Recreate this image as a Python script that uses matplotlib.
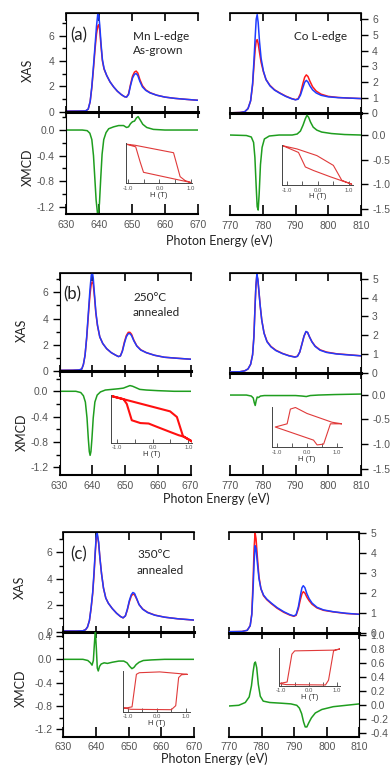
import matplotlib.pyplot as plt
from matplotlib.ticker import MultipleLocator, FixedLocator

plt.rcParams['font.family'] = ['Liberation Sans', 'DejaVu Sans']

W, H = 391, 765

# ---------------- data ----------------
# panel (a) Mn L-edge, as-grown
mn_e_a = [630, 634, 636, 636.8, 637.4, 637.9, 638.4, 638.9, 639.3, 639.7, 640.0, 640.3, 640.7, 641.1,
          641.6, 642.4, 643.4, 644.5, 645.6, 646.8, 647.8, 648.4, 649.0, 649.6, 650.2, 650.8, 651.3,
          651.8, 652.4, 653.2, 654.2, 655.5, 657.5, 660, 663, 666.5, 670]
mn_blue_a = [0.04, 0.05, 0.06, 0.2, 0.8, 2.0, 3.6, 5.3, 6.7, 7.7, 7.6, 6.8, 5.3, 4.1, 3.4, 2.85, 2.35, 1.95,
             1.62, 1.35, 1.18, 1.15, 1.35, 2.05, 2.65, 2.95, 3.0, 2.85, 2.4, 1.95, 1.68, 1.48, 1.3, 1.15,
             1.05, 0.97, 0.9]
mn_red_a = [0.04, 0.05, 0.06, 0.2, 0.8, 1.9, 3.4, 5.0, 6.1, 6.75, 6.85, 6.4, 5.1, 4.0, 3.35, 2.85, 2.35, 1.95,
            1.62, 1.35, 1.18, 1.16, 1.4, 2.15, 2.8, 3.12, 3.2, 3.05, 2.55, 2.05, 1.72, 1.5, 1.3, 1.15,
            1.05, 0.97, 0.9]
mn_mcd_e_a = [630, 635, 636.5, 637.3, 637.9, 638.4, 638.8, 639.2, 639.6, 639.9, 640.2, 640.6, 641.0, 641.5,
              642.2, 643.0, 644.5, 646.0, 647.5, 648.4, 649.0, 649.6, 650.2, 650.8, 651.4, 651.9, 652.5,
              653.3, 654.5, 656.5, 660, 665, 670]
mn_mcd_a = [0.0, 0.0, -0.01, -0.05, -0.15, -0.4, -0.75, -1.1, -1.3, -1.3, -1.15, -0.75, -0.38, -0.15,
            -0.04, 0.02, 0.05, 0.07, 0.07, 0.04, 0.05, 0.1, 0.13, 0.14, 0.19, 0.21, 0.16, 0.09, 0.04,
            0.01, 0.0, 0.0, 0.0]

# panel (a) Co L-edge
co_e_a = [770, 773, 774.5, 775.5, 776.3, 776.9, 777.3, 777.7, 778.0, 778.3, 778.6, 779.0, 779.5, 780.2,
          781.0, 782.2, 783.6, 785.2, 787.0, 788.8, 790.0, 790.8, 791.5, 792.2, 792.8, 793.3, 793.8,
          794.4, 795.2, 796.3, 797.8, 800, 803, 806.5, 810]
co_blue_a = [0.03, 0.05, 0.1, 0.3, 0.8, 1.9, 3.3, 4.9, 6.0, 6.3, 5.8, 4.6, 3.5, 2.7, 2.15, 1.75, 1.48, 1.28,
             1.08, 0.93, 0.86, 0.9, 1.15, 1.6, 1.98, 2.1, 2.0, 1.75, 1.5, 1.3, 1.15, 1.05, 1.0, 0.97, 0.94]
co_red_a = [0.03, 0.05, 0.1, 0.3, 0.8, 1.8, 3.0, 4.1, 4.6, 4.7, 4.45, 3.9, 3.25, 2.65, 2.15, 1.78, 1.5, 1.3,
            1.1, 0.94, 0.87, 0.93, 1.25, 1.85, 2.3, 2.45, 2.35, 2.05, 1.7, 1.42, 1.22, 1.08, 1.01, 0.97, 0.94]
co_mcd_e_a = [770, 775, 776.5, 777.2, 777.6, 778.0, 778.3, 778.6, 778.9, 779.3, 779.8, 780.5, 782, 785,
              789, 790.5, 791.5, 792.3, 793.0, 793.5, 794.0, 794.6, 795.4, 796.5, 798, 801, 805, 810]
co_mcd_a = [0.0, -0.01, -0.04, -0.15, -0.45, -1.05, -1.45, -1.52, -1.2, -0.6, -0.25, -0.08, -0.02, 0.0,
            0.0, 0.02, 0.08, 0.2, 0.33, 0.4, 0.36, 0.26, 0.16, 0.1, 0.06, 0.03, 0.01, 0.0]

# panel (b) Mn L-edge, 250C annealed
mn_e_b = [630, 634, 636, 636.8, 637.3, 637.8, 638.3, 638.8, 639.3, 639.7, 640.0, 640.3, 640.7, 641.1,
          641.6, 642.3, 643.2, 644.4, 645.8, 647.2, 648.0, 648.6, 649.2, 649.8, 650.4, 651.0, 651.5,
          652.0, 652.7, 653.6, 654.8, 656.5, 659, 662, 666, 670]
mn_blue_b = [0.05, 0.06, 0.08, 0.15, 0.5, 1.2, 2.6, 4.4, 6.2, 7.3, 7.6, 7.1, 5.8, 4.5, 3.5, 2.6, 2.1, 1.7,
             1.4, 1.2, 1.1, 1.15, 1.5, 2.1, 2.6, 2.85, 2.85, 2.7, 2.3, 1.9, 1.6, 1.4, 1.2, 1.05, 0.97, 0.9]
mn_red_b = [0.05, 0.06, 0.08, 0.15, 0.5, 1.2, 2.5, 4.2, 5.8, 6.65, 6.8, 6.6, 5.6, 4.4, 3.45, 2.6, 2.1, 1.7,
            1.4, 1.2, 1.1, 1.15, 1.55, 2.2, 2.7, 2.95, 2.95, 2.8, 2.35, 1.92, 1.62, 1.4, 1.2, 1.05, 0.97, 0.9]
mn_mcd_e_b = [630, 635, 636.5, 637.3, 637.9, 638.4, 638.8, 639.1, 639.35, 639.6, 639.9, 640.3, 640.8,
              641.5, 642.5, 644, 646, 648, 649.5, 650.5, 651.5, 652.3, 653.2, 654.5, 656.5, 660, 665, 670]
mn_mcd_b = [0.0, 0.0, -0.02, -0.07, -0.17, -0.42, -0.75, -0.95, -1.01, -0.95, -0.75, -0.42, -0.17, -0.06,
            -0.01, 0.02, 0.03, 0.04, 0.05, 0.07, 0.09, 0.08, 0.06, 0.03, 0.02, 0.01, 0.0, 0.0]

# panel (b) Co L-edge
co_e_b = [770, 773, 774.5, 775.5, 776.3, 776.9, 777.3, 777.6, 777.9, 778.2, 778.5, 778.8, 779.2, 779.7,
          780.4, 781.3, 782.5, 784, 786, 788, 789.8, 790.6, 791.3, 792.0, 792.6, 793.2, 793.7, 794.3,
          795.0, 796.0, 797.5, 799.5, 802.5, 806, 810]
co_blue_b = [0.04, 0.05, 0.1, 0.2, 0.45, 0.95, 1.9, 3.3, 4.6, 5.25, 5.0, 4.4, 3.6, 2.8, 2.1, 1.65, 1.38,
             1.18, 1.02, 0.9, 0.83, 0.87, 1.1, 1.55, 1.95, 2.2, 2.15, 1.9, 1.65, 1.4, 1.2, 1.08, 1.0, 0.95, 0.9]
co_red_b = [0.04, 0.05, 0.1, 0.2, 0.45, 0.97, 1.95, 3.35, 4.6, 5.2, 4.95, 4.4, 3.6, 2.8, 2.12, 1.67, 1.4,
            1.2, 1.03, 0.91, 0.84, 0.88, 1.1, 1.55, 1.95, 2.18, 2.14, 1.9, 1.66, 1.42, 1.22, 1.1, 1.01, 0.96, 0.9]
co_mcd_e_b = [770, 775, 776.5, 777.1, 777.4, 777.7, 778.0, 778.3, 778.7, 779.3, 780.5, 783, 787, 790, 792,
              793.3, 794.5, 797, 802, 810]
co_mcd_b = [-0.01, -0.01, -0.03, -0.07, -0.16, -0.22, -0.12, -0.05, -0.06, -0.03, -0.02, -0.02, -0.02,
            -0.02, -0.03, -0.04, -0.02, -0.01, 0.0, 0.01]

# panel (c) Mn L-edge, 350C annealed
mn_e_c = [630, 634, 636, 636.8, 637.4, 638.0, 638.5, 639.0, 639.4, 639.8, 640.1, 640.4, 640.8, 641.2,
          641.7, 642.3, 643.0, 643.8, 645.0, 646.3, 647.5, 648.3, 649.0, 649.6, 650.2, 650.8, 651.3,
          651.8, 652.4, 653.2, 654.3, 655.8, 658, 661, 665, 670]
mn_blue_c = [0.05, 0.05, 0.07, 0.15, 0.35, 0.85, 1.8, 3.0, 4.5, 6.2, 7.3, 7.45, 6.8, 5.6, 4.4, 3.3, 2.55,
             2.15, 1.75, 1.4, 1.15, 1.05, 1.2, 1.7, 2.35, 2.8, 2.97, 2.9, 2.55, 2.05, 1.7, 1.45, 1.25, 1.1,
             0.98, 0.88]
mn_red_c = [0.05, 0.05, 0.07, 0.15, 0.35, 0.85, 1.75, 2.9, 4.3, 6.0, 7.1, 7.3, 6.75, 5.6, 4.4, 3.3, 2.55,
            2.15, 1.75, 1.4, 1.15, 1.05, 1.2, 1.65, 2.25, 2.7, 2.85, 2.8, 2.5, 2.05, 1.72, 1.47, 1.26, 1.1,
            0.98, 0.88]
mn_mcd_e_c = [630, 636, 637.5, 638.3, 638.8, 639.2, 639.5, 639.8, 640.1, 640.4, 640.7, 641.1, 641.6, 642.5,
              643.5, 645, 647, 648.5, 649.5, 650.3, 651.0, 651.6, 652.3, 653.2, 654.5, 657, 661, 670]
mn_mcd_c = [0.0, 0.0, -0.02, -0.06, -0.1, -0.02, 0.25, 0.5, 0.2, -0.15, -0.2, -0.12, -0.08, -0.06, -0.07,
            -0.05, -0.03, -0.03, -0.06, -0.12, -0.16, -0.14, -0.09, -0.05, -0.02, -0.01, 0.0, 0.0]

# panel (c) Co L-edge
co_e_c = [770, 774, 775.6, 776.5, 777.0, 777.4, 777.7, 778.0, 778.3, 778.7, 779.2, 779.8, 780.6, 781.6,
          783.0, 784.8, 786.8, 788.7, 789.9, 790.6, 791.3, 791.9, 792.4, 792.8, 793.3, 793.9, 794.6,
          795.5, 797, 799, 802, 806, 810]
co_blue_c = [0.05, 0.06, 0.12, 0.35, 0.9, 2.2, 3.5, 4.35, 4.2, 3.5, 2.7, 2.2, 1.88, 1.68, 1.48, 1.25, 1.05,
             0.9, 0.84, 0.9, 1.3, 1.85, 2.25, 2.35, 2.25, 1.95, 1.7, 1.48, 1.27, 1.14, 1.05, 0.97, 0.92]
co_red_c = [0.05, 0.06, 0.12, 0.35, 0.95, 2.6, 4.2, 5.0, 4.7, 3.8, 2.8, 2.2, 1.85, 1.65, 1.45, 1.22, 1.02,
            0.88, 0.82, 0.87, 1.2, 1.65, 1.95, 2.05, 1.98, 1.78, 1.6, 1.42, 1.24, 1.12, 1.04, 0.96, 0.92]
co_mcd_e_c = [770, 773, 775, 776.2, 776.9, 777.4, 777.8, 778.1, 778.5, 779.0, 779.6, 780.5, 782.5, 786,
              789, 790.8, 791.6, 792.3, 792.9, 793.4, 793.9, 794.5, 795.3, 796.5, 798.5, 802, 806, 810]
co_mcd_c = [-0.01, 0.0, 0.04, 0.12, 0.28, 0.48, 0.6, 0.62, 0.54, 0.3, 0.13, 0.06, 0.04, 0.03, 0.02, 0.0,
            -0.04, -0.12, -0.24, -0.31, -0.31, -0.25, -0.18, -0.11, -0.06, -0.02, 0.0, 0.02]

# hysteresis loops in the insets (H in T, M normalised to the inset box)
loop_h_a_mn = [-1.08, -0.78, 0.45, 0.66, 0.82, 1.0, -0.51, -0.62, -0.76, -1.08]
loop_m_a_mn = [1.0, 0.97, 0.78, 0.17, 0.07, 0.02, 0.28, 0.55, 0.93, 1.0]
loop_h_a_co = [-1.12, -0.67, -0.03, 0.5, 0.77, 1.09, 0.4, -0.14, -0.4, -0.62, -1.12]
loop_m_a_co = [1.0, 0.92, 0.75, 0.5, 0.12, 0.02, 0.21, 0.37, 0.46, 0.83, 1.0]
loop_h_b_mn = [-1.11, 0.49, 0.68, 0.85, 1.12, 0.87, 0.73, 0.49, 0.12, -0.11, -0.34, -0.58, -0.72, -0.81, -1.11]
loop_m_b_mn = [0.99, 0.67, 0.55, 0.14, 0.02, 0.13, 0.16, 0.23, 0.34, 0.41, 0.42, 0.48, 0.83, 0.93, 0.99]
loop_h_b_co = [1.18, 0.84, 0.0, -0.39, -0.56, -0.67, -1.07, -0.56, 0.22, 0.34, 0.56, 0.79, 1.18]
loop_m_b_co = [0.59, 0.63, 0.85, 1.0, 0.96, 0.59, 0.51, 0.38, 0.18, 0.06, 0.08, 0.59, 0.59]
loop_h_c_mn = [-1.15, -0.9, 0.5, 0.65, 0.75, 0.85, 1.05, 0.1, -0.6, -0.7, -0.85, -1.15]
loop_m_c_mn = [0.1, 0.06, 0.05, 0.15, 0.85, 0.92, 0.93, 0.99, 0.97, 0.93, 0.12, 0.08]
loop_h_c_co = [1.1, 0.9, -0.5, -0.6, -0.77, -1.05, -0.8, 0.6, 0.71, 0.89, 1.1]
loop_m_c_co = [1.0, 0.97, 0.95, 0.86, 0.1, 0.06, 0.03, 0.02, 0.15, 0.95, 1.0]

BLUE = '#1f3cff'
RED = '#ff1a1a'
GREEN = '#1f9e1f'
TICKC = '#555555'


def box(x0, y0, x1, y1):
    return [x0 / W, 1 - y1 / H, (x1 - x0) / W, (y1 - y0) / H]


def ftext(x, y, s, **kw):
    fig.text(x / W, 1 - y / H, s, **kw)


def xas_axes(rect, xlim, ylim, side, e, blue, red, major, minor=None):
    ax = fig.add_axes(rect)
    ax.patch.set_alpha(0)
    ax.plot(e, red, color=RED, lw=1.1)
    ax.plot(e, blue, color=BLUE, lw=1.1)
    ax.set_xlim(*xlim)
    ax.set_ylim(*ylim)
    for s in ['left', 'right']:
        ax.spines[s].set_visible(False)
    ax.spines[side].set_visible(True)
    ax.spines['bottom'].set_linewidth(2.2)
    ax.spines['top'].set_linewidth(1.2)
    ax.xaxis.set_major_locator(MultipleLocator(10))
    ax.tick_params(axis='x', direction='inout', length=9, width=1.2, labelbottom=False)
    top = ax.secondary_xaxis('top')
    top.xaxis.set_major_locator(MultipleLocator(10))
    top.tick_params(direction='in', length=6, width=1.2, labeltop=False)
    if side == 'right':
        ax.yaxis.tick_right()
    ax.yaxis.set_major_locator(MultipleLocator(major))
    if minor:
        ax.yaxis.set_minor_locator(MultipleLocator(minor))
    ax.tick_params(axis='y', which='both', direction='out', length=5, width=1, pad=3,
                   labelsize=7.5, labelcolor=TICKC)
    ax.tick_params(axis='y', which='minor', length=3)
    return ax


def mcd_axes(rect, xlim, ylim, side, e, v, ticks, minor=None):
    ax = fig.add_axes(rect)
    ax.patch.set_alpha(0)
    ax.plot(e, v, color=GREEN, lw=1.1)
    ax.set_xlim(*xlim)
    ax.set_ylim(*ylim)
    for s in ['left', 'right', 'top']:
        ax.spines[s].set_visible(False)
    ax.spines[side].set_visible(True)
    ax.spines['bottom'].set_linewidth(1.5)
    ax.xaxis.set_major_locator(MultipleLocator(10))
    ax.tick_params(axis='x', direction='in', length=7, width=1.2, labelsize=7.5,
                   labelcolor=TICKC, pad=4)
    if side == 'right':
        ax.yaxis.tick_right()
    ax.yaxis.set_major_locator(FixedLocator(ticks))
    ax.set_yticklabels(['%.1f' % t for t in ticks])
    if minor:
        ax.yaxis.set_minor_locator(MultipleLocator(minor))
    ax.tick_params(axis='y', which='both', direction='out', length=5, width=1, pad=3,
                   labelsize=7.5, labelcolor=TICKC)
    ax.tick_params(axis='y', which='minor', length=3)
    return ax


def inset(rect, xlim, h, m, lw=0.8, color='#e03a3a'):
    ax = fig.add_axes(rect)
    ax.patch.set_alpha(0)
    ax.plot(h, m, color=color, lw=lw)
    ax.set_xlim(*xlim)
    ax.set_ylim(0, 1.02)
    for s in ['top', 'right']:
        ax.spines[s].set_visible(False)
    for s in ['left', 'bottom']:
        ax.spines[s].set_linewidth(0.7)
        ax.spines[s].set_color('#444444')
    ax.set_yticks([])
    ax.set_xticks([-1, 0, 1])
    ax.set_xticklabels(['-1.0', '0.0', '1.0'])
    ax.xaxis.set_minor_locator(FixedLocator([-0.5, 0.5]))
    ax.tick_params(axis='x', which='both', direction='in', length=3, width=0.6, color='#444444',
                   labelsize=4.3, labelcolor='#555555', pad=2)
    ax.set_xlabel('H (T)', fontsize=5.5, color='#333333', labelpad=0.5)
    return ax


fig = plt.figure(figsize=(W / 100, H / 100), dpi=100)

LAB = dict(family=['Lato', 'DejaVu Sans'], color='#222222')

# ---------------- panel (a) ----------------
xas_axes(box(65.7, 13.3, 198, 111.7), (630, 670), (0, 7.75), 'left', mn_e_a, mn_blue_a, mn_red_a, 2, 1)
mcd_axes(box(65.7, 111.7, 198, 214.3), (630, 670), (-1.32, 0.287), 'left', mn_mcd_e_a, mn_mcd_a,
         [0.0, -0.4, -0.8, -1.2], 0.2)
xas_axes(box(230, 13.3, 361, 113.3), (770, 810), (0, 6.38), 'right', co_e_a, co_blue_a, co_red_a, 1)
mcd_axes(box(230, 113.3, 361, 215), (770, 810), (-1.62, 0.44), 'right', co_mcd_e_a, co_mcd_a,
         [0.0, -0.5, -1.0, -1.5])
inset(box(125.7, 143.3, 192.3, 183.3), (-1.08, 1.05), loop_h_a_mn, loop_m_a_mn)
inset(box(282.3, 145, 353.3, 185), (-1.14, 1.14), loop_h_a_co, loop_m_a_co)
ftext(70, 35, '(a)', fontsize=12, va='center', **LAB)
ftext(133, 36, 'Mn L-edge', fontsize=8.5, va='center', **LAB)
ftext(133, 51, 'As-grown', fontsize=8.5, va='center', **LAB)
ftext(294, 36, 'Co L-edge', fontsize=8.5, va='center', **LAB)
ftext(27.5, 70, 'XAS', fontsize=9, rotation=90, ha='center', va='center', **LAB)
ftext(27.5, 167, 'XMCD', fontsize=9, rotation=90, ha='center', va='center', **LAB)
ftext(219.5, 241, 'Photon Energy (eV)', fontsize=9, ha='center', va='center', **LAB)

# ---------------- panel (b) ----------------
xas_axes(box(59.5, 273.3, 190.5, 371), (630, 670), (0, 7.45), 'left', mn_e_b, mn_blue_b, mn_red_b, 2, 1)
mcd_axes(box(59.5, 371, 190.5, 475), (630, 670), (-1.32, 0.32), 'left', mn_mcd_e_b, mn_mcd_b,
         [0.0, -0.4, -0.8, -1.2], 0.2)
xas_axes(box(230, 273.3, 361, 372.7), (770, 810), (0, 5.3), 'right', co_e_b, co_blue_b, co_red_b, 1)
mcd_axes(box(230, 372.7, 361, 475), (770, 810), (-1.62, 0.44), 'right', co_mcd_e_b, co_mcd_b,
         [0.0, -0.5, -1.0, -1.5])
inset(box(111, 395, 192.3, 442.7), (-1.16, 1.11), loop_h_b_mn, loop_m_b_mn, lw=1.5, color='#ff1010')
inset(box(272.3, 406.7, 341.7, 447.3), (-1.17, 1.17), loop_h_b_co, loop_m_b_co)
ftext(63, 294, '(b)', fontsize=12, va='center', **LAB)
ftext(133, 298, '250\u00b0C', fontsize=8.5, va='center', **LAB)
ftext(133, 313, 'annealed', fontsize=8.5, va='center', **LAB)
ftext(22, 330, 'XAS', fontsize=9, rotation=90, ha='center', va='center', **LAB)
ftext(22, 432, 'XMCD', fontsize=9, rotation=90, ha='center', va='center', **LAB)
ftext(216.5, 499, 'Photon Energy (eV)', fontsize=9, ha='center', va='center', **LAB)

# ---------------- panel (c) ----------------
xas_axes(box(63.3, 532.3, 194, 631.7), (630, 670), (0, 7.53), 'left', mn_e_c, mn_blue_c, mn_red_c, 2, 1)
mcd_axes(box(63.3, 631.7, 194, 736.7), (630, 670), (-1.33, 0.475), 'left', mn_mcd_e_c, mn_mcd_c,
         [0.4, 0.0, -0.4, -0.8, -1.2], 0.2)
xas_axes(box(229, 532.3, 359.3, 632.7), (770, 810), (0, 5.02), 'right', co_e_c, co_blue_c, co_red_c, 1)
mcd_axes(box(229, 632.7, 359.3, 736.7), (770, 810), (-0.45, 1.04), 'right', co_mcd_e_c, co_mcd_c,
         [1.0, 0.8, 0.6, 0.4, 0.2, 0.0, -0.2, -0.4])
inset(box(123.3, 670.7, 190, 711.7), (-1.15, 1.14), loop_h_c_mn, loop_m_c_mn)
inset(box(279.3, 648.3, 340, 685.7), (-1.05, 1.12), loop_h_c_co, loop_m_c_co)
ftext(70, 554, '(c)', fontsize=12, va='center', **LAB)
ftext(137, 555, '350\u00b0C', fontsize=8.5, va='center', **LAB)
ftext(137, 571, 'annealed', fontsize=8.5, va='center', **LAB)
ftext(20, 587, 'XAS', fontsize=9, rotation=90, ha='center', va='center', **LAB)
ftext(21, 688, 'XMCD', fontsize=9, rotation=90, ha='center', va='center', **LAB)
ftext(214, 759, 'Photon Energy (eV)', fontsize=9, ha='center', va='center', **LAB)

fig.savefig('out.png', dpi=100)
